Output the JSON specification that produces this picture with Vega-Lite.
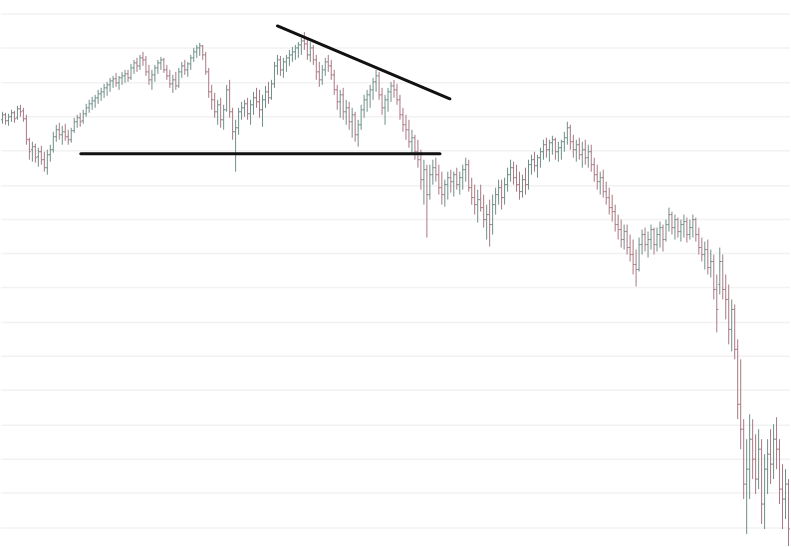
{
"$schema": "https://vega.github.io/schema/vega-lite/v6.json",
"width": 791, "height": 547,
"autosize": {"type": "fit", "contains": "padding"},
"padding": 0,
"background": "white",
"config": {"view": {"stroke": null}},
"datasets": {
"grid": [{"p":536},{"p":502},{"p":467},{"p":433},{"p":399},{"p":364},{"p":330},{"p":296},{"p":262},{"p":227},{"p":193},{"p":159},{"p":124},{"p":90},{"p":56},{"p":21}],
"bars": [
{"i":0,"o":430,"h":438,"l":426,"c":435},{"i":1,"o":435,"h":437,"l":425,"c":429},{"i":2,"o":429,"h":436,"l":424,"c":433},{"i":3,"o":433,"h":440,"l":428,"c":437},{"i":4,"o":437,"h":439,"l":427,"c":431},{"i":5,"o":432,"h":444,"l":430,"c":441},{"i":6,"o":441,"h":445,"l":433,"c":438},{"i":7,"o":439,"h":442,"l":428,"c":431},
{"i":8,"o":431,"h":435,"l":405,"c":410},{"i":9,"o":410,"h":412,"l":390,"c":398},{"i":10,"o":400,"h":408,"l":388,"c":403},{"i":11,"o":403,"h":406,"l":387,"c":392},{"i":12,"o":393,"h":402,"l":383,"c":398},{"i":13,"o":398,"h":404,"l":385,"c":390},{"i":14,"o":390,"h":398,"l":378,"c":382},{"i":15,"o":382,"h":400,"l":375,"c":395},{"i":16,"o":395,"h":405,"l":388,"c":400},
{"i":17,"o":400,"h":418,"l":397,"c":413},{"i":18,"o":413,"h":425,"l":408,"c":420},{"i":19,"o":420,"h":427,"l":410,"c":415},{"i":20,"o":415,"h":424,"l":405,"c":418},{"i":21,"o":418,"h":426,"l":409,"c":413},{"i":22,"o":413,"h":420,"l":405,"c":410},{"i":23,"o":410,"h":422,"l":407,"c":419},{"i":24,"o":419,"h":432,"l":417,"c":428},{"i":25,"o":428,"h":435,"l":422,"c":432},{"i":26,"o":432,"h":437,"l":423,"c":428},{"i":27,"o":429,"h":440,"l":426,"c":436},
{"i":28,"o":436,"h":446,"l":433,"c":442},{"i":29,"o":442,"h":450,"l":437,"c":446},{"i":30,"o":446,"h":453,"l":440,"c":449},{"i":31,"o":449,"h":455,"l":442,"c":452},{"i":32,"o":452,"h":460,"l":446,"c":456},{"i":33,"o":456,"h":462,"l":449,"c":458},{"i":34,"o":458,"h":466,"l":452,"c":462},{"i":35,"o":462,"h":468,"l":454,"c":465},{"i":36,"o":465,"h":472,"l":458,"c":469},{"i":37,"o":469,"h":474,"l":462,"c":471},{"i":38,"o":471,"h":477,"l":463,"c":467},{"i":39,"o":467,"h":474,"l":460,"c":472},{"i":40,"o":472,"h":478,"l":465,"c":474},{"i":41,"o":474,"h":480,"l":467,"c":476},{"i":42,"o":476,"h":480,"l":468,"c":472},
{"i":43,"o":472,"h":486,"l":470,"c":482},{"i":44,"o":482,"h":490,"l":476,"c":487},{"i":45,"o":487,"h":492,"l":478,"c":484},{"i":46,"o":484,"h":495,"l":480,"c":492},{"i":47,"o":492,"h":498,"l":484,"c":490},{"i":48,"o":490,"h":494,"l":474,"c":478},{"i":49,"o":478,"h":485,"l":465,"c":470},{"i":50,"o":470,"h":480,"l":460,"c":475},
{"i":51,"o":475,"h":485,"l":468,"c":482},{"i":52,"o":482,"h":490,"l":476,"c":487},{"i":53,"o":487,"h":493,"l":480,"c":490},{"i":54,"o":490,"h":492,"l":477,"c":480},{"i":55,"o":480,"h":485,"l":470,"c":474},{"i":56,"o":474,"h":480,"l":462,"c":466},{"i":57,"o":466,"h":475,"l":457,"c":470},{"i":58,"o":470,"h":478,"l":460,"c":464},{"i":59,"o":464,"h":482,"l":462,"c":478},{"i":60,"o":478,"h":488,"l":472,"c":484},{"i":61,"o":484,"h":490,"l":475,"c":480},{"i":62,"o":480,"h":488,"l":473,"c":486},
{"i":63,"o":486,"h":495,"l":480,"c":492},{"i":64,"o":492,"h":502,"l":488,"c":498},{"i":65,"o":498,"h":505,"l":492,"c":502},{"i":66,"o":502,"h":507,"l":494,"c":504},{"i":67,"o":504,"h":505,"l":490,"c":495},{"i":68,"o":495,"h":498,"l":475,"c":478},{"i":69,"o":478,"h":482,"l":452,"c":458},{"i":70,"o":458,"h":465,"l":440,"c":450},
{"i":71,"o":450,"h":457,"l":432,"c":438},{"i":72,"o":438,"h":450,"l":425,"c":445},{"i":73,"o":445,"h":452,"l":422,"c":430},{"i":74,"o":430,"h":445,"l":420,"c":440},{"i":75,"o":440,"h":465,"l":438,"c":460},{"i":76,"o":460,"h":470,"l":432,"c":438},{"i":77,"o":438,"h":442,"l":410,"c":418},{"i":78,"o":418,"h":430,"l":378,"c":422},
{"i":79,"o":422,"h":442,"l":415,"c":438},{"i":80,"o":438,"h":448,"l":430,"c":442},{"i":81,"o":442,"h":450,"l":433,"c":446},{"i":82,"o":446,"h":452,"l":430,"c":436},{"i":83,"o":436,"h":450,"l":425,"c":445},{"i":84,"o":445,"h":458,"l":435,"c":452},{"i":85,"o":452,"h":462,"l":442,"c":448},{"i":86,"o":448,"h":460,"l":432,"c":440},{"i":87,"o":440,"h":455,"l":423,"c":450},{"i":88,"o":450,"h":464,"l":442,"c":458},{"i":89,"o":458,"h":468,"l":446,"c":452},{"i":90,"o":452,"h":470,"l":450,"c":466},{"i":91,"o":466,"h":488,"l":462,"c":484},
{"i":92,"o":484,"h":495,"l":475,"c":490},{"i":93,"o":490,"h":494,"l":474,"c":480},{"i":94,"o":480,"h":492,"l":472,"c":488},{"i":95,"o":488,"h":495,"l":478,"c":492},{"i":96,"o":492,"h":500,"l":484,"c":495},{"i":97,"o":495,"h":503,"l":488,"c":498},{"i":98,"o":498,"h":505,"l":490,"c":502},{"i":99,"o":502,"h":508,"l":492,"c":505},{"i":100,"o":505,"h":512,"l":495,"c":509},{"i":101,"o":509,"h":518,"l":500,"c":506},{"i":102,"o":506,"h":510,"l":490,"c":495},
{"i":103,"o":495,"h":508,"l":488,"c":502},{"i":104,"o":502,"h":505,"l":485,"c":490},{"i":105,"o":490,"h":495,"l":470,"c":478},{"i":106,"o":478,"h":488,"l":463,"c":470},{"i":107,"o":470,"h":485,"l":465,"c":480},{"i":108,"o":480,"h":492,"l":474,"c":488},{"i":109,"o":488,"h":495,"l":478,"c":484},{"i":110,"o":484,"h":490,"l":470,"c":475},{"i":111,"o":475,"h":480,"l":455,"c":460},{"i":112,"o":460,"h":465,"l":440,"c":448},{"i":113,"o":448,"h":460,"l":432,"c":455},{"i":114,"o":455,"h":462,"l":430,"c":438},{"i":115,"o":438,"h":450,"l":425,"c":442},{"i":116,"o":442,"h":448,"l":420,"c":428},{"i":117,"o":428,"h":442,"l":412,"c":435},
{"i":118,"o":435,"h":438,"l":408,"c":415},{"i":119,"o":415,"h":430,"l":403,"c":425},{"i":120,"o":425,"h":445,"l":420,"c":440},{"i":121,"o":440,"h":455,"l":432,"c":450},{"i":122,"o":450,"h":460,"l":438,"c":455},{"i":123,"o":455,"h":465,"l":442,"c":460},{"i":124,"o":460,"h":472,"l":450,"c":468},{"i":125,"o":468,"h":480,"l":458,"c":474},{"i":126,"o":474,"h":478,"l":450,"c":455},{"i":127,"o":455,"h":462,"l":435,"c":442},{"i":128,"o":442,"h":455,"l":425,"c":450},{"i":129,"o":450,"h":462,"l":438,"c":458},{"i":130,"o":458,"h":468,"l":448,"c":464},
{"i":131,"o":464,"h":470,"l":452,"c":460},{"i":132,"o":460,"h":466,"l":445,"c":450},{"i":133,"o":450,"h":455,"l":430,"c":435},{"i":134,"o":435,"h":442,"l":418,"c":425},{"i":135,"o":425,"h":435,"l":410,"c":420},{"i":136,"o":420,"h":430,"l":402,"c":408},{"i":137,"o":408,"h":420,"l":395,"c":412},{"i":138,"o":412,"h":415,"l":390,"c":398},{"i":139,"o":398,"h":410,"l":382,"c":390},{"i":140,"o":390,"h":400,"l":360,"c":370},{"i":141,"o":370,"h":390,"l":345,"c":380},{"i":142,"o":380,"h":385,"l":312,"c":355},
{"i":143,"o":355,"h":385,"l":350,"c":375},{"i":144,"o":375,"h":390,"l":365,"c":382},{"i":145,"o":382,"h":392,"l":368,"c":375},{"i":146,"o":375,"h":385,"l":355,"c":362},{"i":147,"o":362,"h":378,"l":345,"c":355},{"i":148,"o":355,"h":370,"l":343,"c":365},{"i":149,"o":365,"h":378,"l":350,"c":372},{"i":150,"o":372,"h":380,"l":357,"c":368},{"i":151,"o":368,"h":378,"l":353,"c":375},{"i":152,"o":375,"h":382,"l":360,"c":365},{"i":153,"o":365,"h":378,"l":355,"c":372},{"i":154,"o":372,"h":385,"l":360,"c":380},{"i":155,"o":380,"h":392,"l":368,"c":385},{"i":156,"o":385,"h":390,"l":358,"c":362},{"i":157,"o":362,"h":372,"l":345,"c":352},{"i":158,"o":352,"h":365,"l":335,"c":345},{"i":159,"o":345,"h":360,"l":327,"c":350},{"i":160,"o":350,"h":365,"l":338,"c":342},{"i":161,"o":342,"h":355,"l":322,"c":330},{"i":162,"o":330,"h":345,"l":310,"c":335},
{"i":163,"o":335,"h":350,"l":303,"c":325},{"i":164,"o":325,"h":355,"l":315,"c":345},{"i":165,"o":345,"h":362,"l":335,"c":355},{"i":166,"o":355,"h":370,"l":345,"c":362},{"i":167,"o":362,"h":370,"l":340,"c":352},{"i":168,"o":352,"h":372,"l":345,"c":365},{"i":169,"o":365,"h":382,"l":358,"c":375},{"i":170,"o":375,"h":390,"l":368,"c":382},{"i":171,"o":382,"h":388,"l":365,"c":372},{"i":172,"o":372,"h":385,"l":358,"c":365},{"i":173,"o":365,"h":378,"l":350,"c":358},{"i":174,"o":358,"h":375,"l":352,"c":370},{"i":175,"o":370,"h":382,"l":355,"c":365},{"i":176,"o":365,"h":390,"l":360,"c":385},{"i":177,"o":385,"h":395,"l":375,"c":390},{"i":178,"o":390,"h":398,"l":378,"c":384},{"i":179,"o":384,"h":395,"l":372,"c":392},{"i":180,"o":392,"h":402,"l":382,"c":398},
{"i":181,"o":398,"h":410,"l":390,"c":405},{"i":182,"o":405,"h":412,"l":392,"c":400},{"i":183,"o":400,"h":410,"l":388,"c":407},{"i":184,"o":407,"h":414,"l":395,"c":410},{"i":185,"o":410,"h":412,"l":390,"c":398},{"i":186,"o":398,"h":408,"l":388,"c":402},{"i":187,"o":402,"h":410,"l":390,"c":408},{"i":188,"o":408,"h":418,"l":398,"c":412},{"i":189,"o":412,"h":428,"l":405,"c":422},{"i":190,"o":422,"h":425,"l":400,"c":408},{"i":191,"o":408,"h":415,"l":392,"c":400},{"i":192,"o":400,"h":410,"l":388,"c":405},{"i":193,"o":405,"h":412,"l":390,"c":395},{"i":194,"o":395,"h":408,"l":382,"c":400},{"i":195,"o":400,"h":410,"l":385,"c":392},{"i":196,"o":392,"h":405,"l":382,"c":398},{"i":197,"o":398,"h":405,"l":378,"c":385},
{"i":198,"o":385,"h":392,"l":368,"c":375},{"i":199,"o":375,"h":385,"l":360,"c":368},{"i":200,"o":368,"h":378,"l":355,"c":372},{"i":201,"o":372,"h":380,"l":352,"c":358},{"i":202,"o":358,"h":368,"l":345,"c":352},{"i":203,"o":352,"h":362,"l":335,"c":342},{"i":204,"o":342,"h":355,"l":328,"c":338},{"i":205,"o":338,"h":345,"l":318,"c":325},{"i":206,"o":325,"h":335,"l":310,"c":320},{"i":207,"o":320,"h":330,"l":302,"c":310},{"i":208,"o":310,"h":325,"l":300,"c":318},{"i":209,"o":318,"h":325,"l":295,"c":302},{"i":210,"o":302,"h":315,"l":288,"c":295},{"i":211,"o":295,"h":310,"l":275,"c":285},{"i":212,"o":285,"h":300,"l":263,"c":280},{"i":213,"o":280,"h":312,"l":278,"c":305},
{"i":214,"o":305,"h":320,"l":295,"c":315},{"i":215,"o":315,"h":322,"l":298,"c":305},{"i":216,"o":305,"h":318,"l":292,"c":310},{"i":217,"o":310,"h":325,"l":300,"c":320},{"i":218,"o":320,"h":322,"l":295,"c":305},{"i":219,"o":305,"h":322,"l":298,"c":315},{"i":220,"o":315,"h":328,"l":302,"c":322},{"i":221,"o":322,"h":325,"l":298,"c":310},{"i":222,"o":310,"h":330,"l":308,"c":325},{"i":223,"o":325,"h":342,"l":318,"c":335},{"i":224,"o":335,"h":338,"l":315,"c":322},{"i":225,"o":322,"h":335,"l":310,"c":330},{"i":226,"o":330,"h":332,"l":312,"c":318},{"i":227,"o":318,"h":330,"l":308,"c":325},{"i":228,"o":325,"h":335,"l":312,"c":328},{"i":229,"o":328,"h":332,"l":307,"c":315},{"i":230,"o":315,"h":330,"l":310,"c":322},{"i":231,"o":322,"h":335,"l":312,"c":330},{"i":232,"o":330,"h":332,"l":308,"c":315},
{"i":233,"o":315,"h":322,"l":295,"c":302},{"i":234,"o":302,"h":312,"l":288,"c":295},{"i":235,"o":295,"h":308,"l":280,"c":300},{"i":236,"o":300,"h":310,"l":275,"c":282},{"i":237,"o":282,"h":300,"l":272,"c":288},{"i":238,"o":288,"h":295,"l":250,"c":260},{"i":239,"o":260,"h":275,"l":217,"c":240},{"i":240,"o":265,"h":302,"l":255,"c":288},{"i":241,"o":288,"h":295,"l":250,"c":260},{"i":242,"o":260,"h":275,"l":230,"c":250},{"i":243,"o":250,"h":265,"l":205,"c":220},{"i":244,"o":220,"h":250,"l":198,"c":240},{"i":245,"o":240,"h":245,"l":190,"c":200},
{"i":246,"o":200,"h":210,"l":130,"c":145},{"i":247,"o":145,"h":190,"l":100,"c":120},{"i":248,"o":120,"h":130,"l":50,"c":65},{"i":249,"o":65,"h":110,"l":15,"c":80},{"i":250,"o":80,"h":135,"l":50,"c":110},{"i":251,"o":110,"h":130,"l":70,"c":90},{"i":252,"o":90,"h":115,"l":55,"c":70},{"i":253,"o":70,"h":120,"l":60,"c":100},{"i":254,"o":100,"h":110,"l":25,"c":45},{"i":255,"o":45,"h":95,"l":20,"c":80},{"i":256,"o":80,"h":110,"l":55,"c":95},{"i":257,"o":95,"h":120,"l":65,"c":85},{"i":258,"o":85,"h":125,"l":70,"c":110},{"i":259,"o":110,"h":132,"l":80,"c":100},{"i":260,"o":100,"h":110,"l":45,"c":60},{"i":261,"o":60,"h":85,"l":20,"c":50},{"i":262,"o":50,"h":80,"l":30,"c":65},{"i":263,"o":65,"h":70,"l":3,"c":20}
],
"trend": [
{"x1": 92, "y1": 524, "x2": 149.7, "y2": 451},
{"x1": 26.2, "y1": 396, "x2": 146.4, "y2": 396}
]
},
"layer": [
{"data": {"name": "grid"},
 "mark": {"type": "rule", "strokeWidth": 1.5, "color": "#f2f2f2"},
 "encoding": {
  "y": {"field": "p", "type": "quantitative", "scale": {"domain": [3, 550], "nice": false, "zero": false}, "axis": null}
 }},
{"data": {"name": "bars"},
 "mark": {"type": "rule", "strokeWidth": 1},
 "encoding": {
  "x": {"field": "i", "type": "quantitative", "scale": {"domain": [-0.5, 263.5], "nice": false, "zero": false}, "axis": null},
  "y": {"field": "l", "type": "quantitative"},
  "y2": {"field": "h"},
  "color": {"condition": {"test": "datum.c >= datum.o", "value": "#6f8f89"}, "value": "#a97882"}
 }},
{"data": {"name": "bars"},
 "mark": {"type": "rule", "strokeWidth": 1, "xOffset": -1.5, "x2Offset": 0},
 "encoding": {
  "x": {"field": "i", "type": "quantitative"},
  "x2": {"field": "i"},
  "y": {"field": "o", "type": "quantitative"},
  "color": {"condition": {"test": "datum.c >= datum.o", "value": "#6f8f89"}, "value": "#a97882"}
 }},
{"data": {"name": "bars"},
 "mark": {"type": "rule", "strokeWidth": 1, "xOffset": 0, "x2Offset": 1.5},
 "encoding": {
  "x": {"field": "i", "type": "quantitative"},
  "x2": {"field": "i"},
  "y": {"field": "c", "type": "quantitative"},
  "color": {"condition": {"test": "datum.c >= datum.o", "value": "#6f8f89"}, "value": "#a97882"}
 }},
{"data": {"name": "trend"},
 "mark": {"type": "rule", "strokeWidth": 3, "color": "#111111", "strokeCap": "round"},
 "encoding": {
  "x": {"field": "x1", "type": "quantitative"},
  "x2": {"field": "x2"},
  "y": {"field": "y1", "type": "quantitative"},
  "y2": {"field": "y2"}
 }}
]
}
